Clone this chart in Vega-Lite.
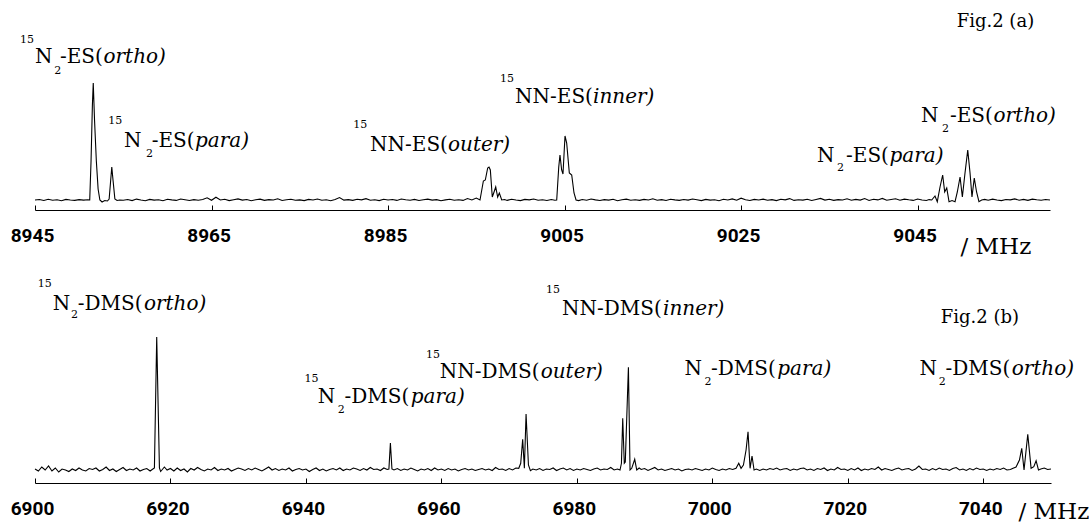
{
"$schema":"https://vega.github.io/schema/vega-lite/v6.json",
"padding":{"left":10,"top":0,"right":0,"bottom":0},
"spacing":4,
"config":{"view":{"stroke":null},
 "axis":{"domainColor":"black","domainWidth":1,"tickColor":"black","tickSize":-5,"labelPadding":21,"labelFlush":false,"labelColor":"black","labelFont":"Roboto","labelFontWeight":"bold","labelFontSize":19,"grid":false,"titleFont":"DejaVu Serif","titleFontWeight":"normal","titleFontSize":23,"titleColor":"black"}},
"datasets":{
"a":[
{"f":8945,"v":1},{"f":8945.5,"v":1.5},{"f":8946,"v":0.5},{"f":8946.5,"v":1.8},{"f":8947,"v":0.8},{"f":8947.5,"v":1.2},{"f":8948,"v":0.3},{"f":8948.5,"v":1.6},{"f":8949,"v":1},{"f":8949.5,"v":0.6},{"f":8950,"v":1.4},{"f":8950.5,"v":0.9},{"f":8951,"v":1.2},
{"f":8951.2,"v":1},{"f":8951.35,"v":40},{"f":8951.5,"v":95},{"f":8951.6,"v":118},{"f":8951.75,"v":80},{"f":8951.95,"v":40},{"f":8952.15,"v":12},{"f":8952.35,"v":1},{"f":8952.6,"v":-1},{"f":8952.9,"v":0.5},{"f":8953.2,"v":0},{"f":8953.4,"v":2},{"f":8953.55,"v":18},{"f":8953.7,"v":34},{"f":8953.85,"v":20},{"f":8954.05,"v":2},{"f":8954.3,"v":0.5},{"f":8954.6,"v":1},
{"f":8955,"v":0.8},{"f":8955.5,"v":1.5},{"f":8956,"v":0.4},{"f":8956.5,"v":1.9},{"f":8957,"v":1},{"f":8957.5,"v":0.3},{"f":8958,"v":1.6},{"f":8958.5,"v":0.9},{"f":8959,"v":1.3},{"f":8959.5,"v":0.2},{"f":8960,"v":1.7},{"f":8960.5,"v":1.1},{"f":8961,"v":0.6},{"f":8961.5,"v":2},{"f":8962,"v":1.2},{"f":8962.5,"v":0.5},{"f":8963,"v":1.4},{"f":8963.5,"v":0.8},{"f":8964,"v":1.5},{"f":8964.5,"v":3.2},{"f":8965,"v":0.7},{"f":8965.5,"v":3.8},{"f":8966,"v":1},{"f":8966.5,"v":1.8},{"f":8967,"v":0.4},{"f":8967.5,"v":1.3},{"f":8968,"v":2.1},{"f":8968.5,"v":0.9},{"f":8969,"v":1.5},{"f":8969.5,"v":0.3},{"f":8970,"v":1.2},{"f":8970.5,"v":1.9},{"f":8971,"v":0.6},{"f":8971.5,"v":1.4},{"f":8972,"v":1},{"f":8972.5,"v":2.2},{"f":8973,"v":0.5},{"f":8973.5,"v":1.3},{"f":8974,"v":1.8},{"f":8974.5,"v":0.7},{"f":8975,"v":1.1},{"f":8975.5,"v":0.4},{"f":8976,"v":1.6},{"f":8976.5,"v":1},{"f":8977,"v":2},{"f":8977.5,"v":0.8},{"f":8978,"v":1.3},{"f":8978.5,"v":0.2},{"f":8979,"v":1.5},{"f":8979.5,"v":3.5},{"f":8980,"v":0.9},{"f":8980.5,"v":1.4},{"f":8981,"v":0.6},{"f":8981.5,"v":1.8},{"f":8982,"v":1.1},{"f":8982.5,"v":2.3},{"f":8983,"v":0.7},{"f":8983.5,"v":1.2},{"f":8984,"v":0.4},{"f":8984.5,"v":1.7},{"f":8985,"v":1},{"f":8985.5,"v":1.5},{"f":8986,"v":0.6},{"f":8986.5,"v":2},{"f":8987,"v":1.2},{"f":8987.5,"v":0.8},{"f":8988,"v":1.6},{"f":8988.5,"v":0.5},{"f":8989,"v":1.3},{"f":8989.5,"v":1.9},{"f":8990,"v":0.9},{"f":8990.5,"v":1.4},{"f":8991,"v":0.3},{"f":8991.5,"v":1.1},{"f":8992,"v":1.7},{"f":8992.5,"v":0.8},{"f":8993,"v":1.3},{"f":8993.5,"v":0.6},{"f":8994,"v":2.5},{"f":8994.5,"v":1},{"f":8995,"v":3},
{"f":8995.42,"v":1},{"f":8995.8,"v":20},{"f":8996.02,"v":21},{"f":8996.29,"v":33},{"f":8996.44,"v":34},{"f":8996.59,"v":31},{"f":8996.81,"v":4},{"f":8997.01,"v":9},{"f":8997.2,"v":14},{"f":8997.42,"v":4},{"f":8997.61,"v":8},{"f":8997.88,"v":1},
{"f":8998.2,"v":1.5},{"f":8998.5,"v":0.6},{"f":8999,"v":1.8},{"f":8999.5,"v":1},{"f":9000,"v":0.4},{"f":9000.5,"v":1.6},{"f":9001,"v":1.1},{"f":9001.5,"v":2},{"f":9002,"v":0.7},{"f":9002.5,"v":1.3},{"f":9003,"v":0.5},{"f":9003.5,"v":1.5},{"f":9003.9,"v":0.8},
{"f":9004.11,"v":1},{"f":9004.34,"v":34},{"f":9004.48,"v":46},{"f":9004.67,"v":31},{"f":9004.82,"v":27},{"f":9005.05,"v":65},{"f":9005.24,"v":58},{"f":9005.54,"v":28},{"f":9005.81,"v":26},{"f":9006.07,"v":8},{"f":9006.3,"v":1},
{"f":9006.6,"v":0.4},{"f":9007,"v":1.5},{"f":9007.5,"v":0.8},{"f":9008,"v":2},{"f":9008.5,"v":1.1},{"f":9009,"v":0.5},{"f":9009.5,"v":1.4},{"f":9010,"v":0.9},{"f":9010.5,"v":1.7},{"f":9011,"v":0.3},{"f":9011.5,"v":1.2},{"f":9012,"v":1.9},{"f":9012.5,"v":0.8},{"f":9013,"v":1.3},{"f":9013.5,"v":0.6},{"f":9014,"v":1.6},{"f":9014.5,"v":1},{"f":9015,"v":2.2},{"f":9015.5,"v":0.7},{"f":9016,"v":1.4},{"f":9016.5,"v":0.5},{"f":9017,"v":1.8},{"f":9017.5,"v":1.1},{"f":9018,"v":0.6},{"f":9018.5,"v":1.5},{"f":9019,"v":0.9},{"f":9019.5,"v":2},{"f":9020,"v":1.2},{"f":9020.5,"v":0.4},{"f":9021,"v":1.6},{"f":9021.5,"v":0.9},{"f":9022,"v":1.3},{"f":9022.5,"v":0.3},{"f":9023,"v":1.7},{"f":9023.5,"v":1},{"f":9024,"v":2.1},{"f":9024.5,"v":0.8},{"f":9025,"v":2.8},{"f":9025.5,"v":1.2},{"f":9026,"v":0.5},{"f":9026.5,"v":1.6},{"f":9027,"v":1},{"f":9027.5,"v":1.9},{"f":9028,"v":0.7},{"f":9028.5,"v":1.4},{"f":9029,"v":0.4},{"f":9029.5,"v":1.8},{"f":9030,"v":1.1},{"f":9030.5,"v":2.4},{"f":9031,"v":0.6},{"f":9031.5,"v":1.3},{"f":9032,"v":0.9},{"f":9032.5,"v":1.7},{"f":9033,"v":0.5},{"f":9033.5,"v":1.5},{"f":9034,"v":2.6},{"f":9034.5,"v":0.9},{"f":9035,"v":1.8},{"f":9035.5,"v":0.6},{"f":9036,"v":1.4},{"f":9036.5,"v":1},{"f":9037,"v":2.2},{"f":9037.5,"v":0.7},{"f":9038,"v":1.6},{"f":9038.5,"v":0.9},{"f":9039,"v":2.4},{"f":9039.5,"v":0.5},{"f":9040,"v":1.8},{"f":9040.5,"v":1.1},{"f":9041,"v":2.6},{"f":9041.5,"v":0.7},{"f":9042,"v":1.5},{"f":9042.5,"v":2.3},{"f":9043,"v":0.8},{"f":9043.5,"v":1.9},{"f":9044,"v":1.2},{"f":9044.5,"v":0.6},{"f":9045,"v":2},{"f":9045.5,"v":1},{"f":9046,"v":0.5},{"f":9046.3,"v":1.4},
{"f":9046.6,"v":1},{"f":9046.97,"v":5},{"f":9047.23,"v":-0.7},{"f":9047.54,"v":14},{"f":9047.84,"v":26},{"f":9048.07,"v":9},{"f":9048.3,"v":13},{"f":9048.56,"v":-0.7},{"f":9048.9,"v":0.5},{"f":9049.24,"v":-0.7},{"f":9049.5,"v":9},{"f":9049.81,"v":24},{"f":9050.07,"v":4},{"f":9050.37,"v":28},{"f":9050.68,"v":51},{"f":9050.94,"v":28},{"f":9051.16,"v":4},{"f":9051.42,"v":23},{"f":9051.68,"v":9},{"f":9051.95,"v":-0.7},{"f":9052.26,"v":1},
{"f":9052.6,"v":1.6},{"f":9053,"v":0.8},{"f":9053.5,"v":1.9},{"f":9054,"v":1},{"f":9054.5,"v":0.4},{"f":9055,"v":1.5},{"f":9055.5,"v":1.1},{"f":9056,"v":2.1},{"f":9056.5,"v":0.8},{"f":9057,"v":1.6},{"f":9057.5,"v":0.6},{"f":9058,"v":1.9},{"f":9058.5,"v":1.2},{"f":9059,"v":0.7},{"f":9059.5,"v":1.5},{"f":9060,"v":1}
],
"b":[
{"f":6900,"v":1},{"f":6900.5,"v":-1},{"f":6901,"v":3},{"f":6901.5,"v":0},{"f":6902,"v":4},{"f":6902.5,"v":-1},{"f":6903,"v":2},{"f":6903.5,"v":-2},{"f":6904,"v":1},{"f":6904.5,"v":0},{"f":6905,"v":-1.5},{"f":6905.5,"v":1},{"f":6906,"v":-0.5},{"f":6906.5,"v":2},{"f":6907,"v":0},{"f":6907.5,"v":-1},{"f":6908,"v":1.5},{"f":6908.5,"v":0.5},{"f":6909,"v":2},{"f":6909.5,"v":-1},{"f":6910,"v":0.5},{"f":6910.5,"v":3},{"f":6911,"v":-0.5},{"f":6911.5,"v":1},{"f":6912,"v":-1.5},{"f":6912.5,"v":0.5},{"f":6913,"v":2.5},{"f":6913.5,"v":-0.5},{"f":6914,"v":1},{"f":6914.5,"v":0},{"f":6915,"v":2},{"f":6915.5,"v":-1},{"f":6916,"v":0.5},{"f":6916.5,"v":1.5},{"f":6917,"v":-1},{"f":6917.3,"v":0.5},
{"f":6917.63,"v":2},{"f":6917.97,"v":133},{"f":6918.37,"v":2},{"f":6918.55,"v":-1.5},
{"f":6918.8,"v":0.5},{"f":6919.1,"v":3},{"f":6919.5,"v":0},{"f":6920,"v":1.5},{"f":6920.5,"v":-1},{"f":6921,"v":2},{"f":6921.5,"v":-0.5},{"f":6922,"v":1},{"f":6922.5,"v":-2},{"f":6923,"v":1.5},{"f":6923.5,"v":0},{"f":6924,"v":2.5},{"f":6924.5,"v":0.5},{"f":6925,"v":-1},{"f":6925.5,"v":1},{"f":6926,"v":0},{"f":6926.5,"v":2.5},{"f":6927,"v":-0.5},{"f":6927.5,"v":1},{"f":6928,"v":0},{"f":6928.5,"v":1.5},{"f":6929,"v":-1},{"f":6929.5,"v":0.5},{"f":6930,"v":2},{"f":6930.5,"v":1},{"f":6931,"v":-0.5},{"f":6931.5,"v":1.5},{"f":6932,"v":0},{"f":6932.5,"v":2},{"f":6933,"v":0.5},{"f":6933.5,"v":-1},{"f":6934,"v":1},{"f":6934.5,"v":3},{"f":6935,"v":0},{"f":6935.5,"v":1.5},{"f":6936,"v":-0.5},{"f":6936.5,"v":1},{"f":6937,"v":0},{"f":6937.5,"v":2},{"f":6938,"v":-1},{"f":6938.5,"v":0.5},{"f":6939,"v":1.5},{"f":6939.5,"v":0},{"f":6940,"v":1},{"f":6940.5,"v":-1.5},{"f":6941,"v":0.5},{"f":6941.5,"v":2},{"f":6942,"v":-0.5},{"f":6942.5,"v":1},{"f":6943,"v":-1},{"f":6943.5,"v":0.5},{"f":6944,"v":1.5},{"f":6944.5,"v":0},{"f":6945,"v":2},{"f":6945.5,"v":-0.5},{"f":6946,"v":1},{"f":6946.5,"v":0},{"f":6947,"v":2},{"f":6947.5,"v":1},{"f":6948,"v":-0.5},{"f":6948.5,"v":1.5},{"f":6949,"v":0},{"f":6949.5,"v":2.5},{"f":6950,"v":0.5},{"f":6950.5,"v":1},{"f":6951,"v":-0.5},{"f":6951.5,"v":2},{"f":6952,"v":0.5},
{"f":6952.25,"v":1},{"f":6952.47,"v":27},{"f":6952.7,"v":1},
{"f":6953,"v":0},{"f":6953.5,"v":1.5},{"f":6954,"v":-0.5},{"f":6954.5,"v":1},{"f":6955,"v":0},{"f":6955.5,"v":2},{"f":6956,"v":0.5},{"f":6956.5,"v":-1},{"f":6957,"v":1},{"f":6957.5,"v":0},{"f":6958,"v":1.5},{"f":6958.5,"v":-0.5},{"f":6959,"v":2},{"f":6959.5,"v":0},{"f":6960,"v":1},{"f":6960.5,"v":-0.5},{"f":6961,"v":1.5},{"f":6961.5,"v":0},{"f":6962,"v":1},{"f":6962.5,"v":-1},{"f":6963,"v":0.5},{"f":6963.5,"v":1.5},{"f":6964,"v":0},{"f":6964.5,"v":1},{"f":6965,"v":-0.5},{"f":6965.5,"v":0.5},{"f":6966,"v":1.5},{"f":6966.5,"v":0},{"f":6967,"v":1},{"f":6967.5,"v":-0.5},{"f":6968,"v":2.5},{"f":6968.5,"v":0.5},{"f":6969,"v":1},{"f":6969.5,"v":-0.5},{"f":6970,"v":1.5},{"f":6970.5,"v":0},{"f":6971,"v":2},
{"f":6971.42,"v":1.7},{"f":6971.71,"v":6.7},{"f":6972,"v":30.7},{"f":6972.25,"v":1.7},{"f":6972.5,"v":56},{"f":6972.85,"v":5},{"f":6973.14,"v":-0.7},
{"f":6973.5,"v":1},{"f":6974,"v":0},{"f":6974.5,"v":1.5},{"f":6975,"v":-0.5},{"f":6975.5,"v":1},{"f":6976,"v":0.5},{"f":6976.5,"v":2},{"f":6977,"v":-0.5},{"f":6977.5,"v":1},{"f":6978,"v":2},{"f":6978.5,"v":0},{"f":6979,"v":1.5},{"f":6979.5,"v":-0.5},{"f":6980,"v":1},{"f":6980.5,"v":0},{"f":6981,"v":1.5},{"f":6981.5,"v":0.5},{"f":6982,"v":-0.5},{"f":6982.5,"v":1},{"f":6983,"v":2},{"f":6983.5,"v":0},{"f":6984,"v":1},{"f":6984.5,"v":0.5},{"f":6985,"v":2.5},{"f":6985.5,"v":0},{"f":6986,"v":1},
{"f":6986.37,"v":0},{"f":6986.58,"v":6.7},{"f":6986.77,"v":51.7},{"f":6987,"v":6.7},{"f":6987.15,"v":8},{"f":6987.61,"v":102.7},{"f":6987.85,"v":0},{"f":6988.1,"v":1.7},{"f":6988.54,"v":10.7},{"f":6988.84,"v":0},
{"f":6989.2,"v":2},{"f":6989.5,"v":0.5},{"f":6990,"v":1.5},{"f":6990.5,"v":-0.5},{"f":6991,"v":1},{"f":6991.5,"v":2.5},{"f":6992,"v":0},{"f":6992.5,"v":1},{"f":6993,"v":-0.5},{"f":6993.5,"v":0.5},{"f":6994,"v":1.5},{"f":6994.5,"v":0},{"f":6995,"v":1},{"f":6995.5,"v":-1},{"f":6996,"v":0.5},{"f":6996.5,"v":1},{"f":6997,"v":0},{"f":6997.5,"v":1.5},{"f":6998,"v":0.5},{"f":6998.5,"v":-0.5},{"f":6999,"v":1},{"f":6999.5,"v":0},{"f":7000,"v":2},{"f":7000.5,"v":0.5},{"f":7001,"v":-0.5},{"f":7001.5,"v":1},{"f":7002,"v":0},{"f":7002.5,"v":1.5},{"f":7003,"v":0.5},
{"f":7003.5,"v":1.7},{"f":7003.9,"v":6.7},{"f":7004.24,"v":1.7},{"f":7004.59,"v":5},{"f":7004.98,"v":20},{"f":7005.27,"v":38.3},{"f":7005.57,"v":1.7},{"f":7005.86,"v":14},{"f":7006.16,"v":0},
{"f":7006.5,"v":1},{"f":7007,"v":-0.5},{"f":7007.5,"v":1},{"f":7008,"v":0},{"f":7008.5,"v":1.5},{"f":7009,"v":0.5},{"f":7009.5,"v":2},{"f":7010,"v":0},{"f":7010.5,"v":1},{"f":7011,"v":1.5},{"f":7011.5,"v":-0.5},{"f":7012,"v":1},{"f":7012.5,"v":0},{"f":7013,"v":1.5},{"f":7013.5,"v":2},{"f":7014,"v":0},{"f":7014.5,"v":1},{"f":7015,"v":-0.5},{"f":7015.5,"v":1.5},{"f":7016,"v":0.5},{"f":7016.5,"v":2},{"f":7017,"v":-0.5},{"f":7017.5,"v":1},{"f":7018,"v":0},{"f":7018.5,"v":2.5},{"f":7019,"v":0.5},{"f":7019.5,"v":1},{"f":7020,"v":-0.5},{"f":7020.5,"v":1.5},{"f":7021,"v":0},{"f":7021.5,"v":2},{"f":7022,"v":-0.5},{"f":7022.5,"v":1},{"f":7023,"v":0},{"f":7023.5,"v":1.5},{"f":7024,"v":0.5},{"f":7024.5,"v":3},{"f":7025,"v":0},{"f":7025.5,"v":1.5},{"f":7026,"v":0.5},{"f":7026.5,"v":-0.5},{"f":7027,"v":1},{"f":7027.5,"v":2},{"f":7028,"v":0},{"f":7028.5,"v":1},{"f":7029,"v":1.5},{"f":7029.5,"v":-0.5},{"f":7030,"v":1},{"f":7030.5,"v":4},{"f":7031,"v":0.5},{"f":7031.5,"v":1},{"f":7032,"v":-0.5},{"f":7032.5,"v":1.5},{"f":7033,"v":0},{"f":7033.5,"v":2},{"f":7034,"v":0.5},{"f":7034.5,"v":1},{"f":7035,"v":-0.5},{"f":7035.5,"v":1.5},{"f":7036,"v":2.5},{"f":7036.5,"v":0},{"f":7037,"v":1},{"f":7037.5,"v":-0.5},{"f":7038,"v":1.5},{"f":7038.5,"v":0},{"f":7039,"v":2},{"f":7039.5,"v":0.5},{"f":7040,"v":1},{"f":7040.5,"v":-0.5},{"f":7041,"v":1},{"f":7041.5,"v":0},{"f":7042,"v":1.5},{"f":7042.5,"v":0.5},{"f":7043,"v":2},{"f":7043.5,"v":0},{"f":7044,"v":0.5},
{"f":7044.4,"v":1.7},{"f":7044.84,"v":3},{"f":7045.34,"v":10},{"f":7045.68,"v":21.7},{"f":7046.02,"v":0},{"f":7046.57,"v":35.7},{"f":7047.06,"v":1.7},{"f":7047.46,"v":3.3},{"f":7047.8,"v":9.3},{"f":7048.15,"v":0},
{"f":7048.5,"v":1},{"f":7049,"v":2},{"f":7049.5,"v":0.5},{"f":7050,"v":1}
],
"la":[
{"k":"s","t":"15","f":8943.3,"v":157.7},{"k":"m","t":"N","f":8945.0,"v":137.7},{"k":"b","t":"2","f":8947.19,"v":127},{"k":"m","t":"-ES(","f":8947.83,"v":137.7},{"k":"i","t":"ortho)","f":8952.76,"v":137.7},
{"k":"s","t":"15","f":8953.31,"v":77},{"k":"m","t":"N","f":8955.08,"v":54.3},{"k":"b","t":"2","f":8957.58,"v":44.3},{"k":"m","t":"-ES(","f":8958.22,"v":54.3},{"k":"i","t":"para)","f":8963.13,"v":54.3},
{"k":"s","t":"15","f":8981.06,"v":72.7},{"k":"m","t":"NN-ES(","f":8982.96,"v":50.3},{"k":"i","t":"outer)","f":8991.79,"v":50.3},
{"k":"s","t":"15","f":8997.69,"v":119.3},{"k":"m","t":"NN-ES(","f":8999.39,"v":98.3},{"k":"i","t":"inner)","f":9008.22,"v":98.3},
{"k":"m","t":"N","f":9045.39,"v":79.3},{"k":"b","t":"2","f":9047.77,"v":69.3},{"k":"m","t":"-ES(","f":9048.67,"v":79.3},{"k":"i","t":"ortho)","f":9053.6,"v":79.3},
{"k":"m","t":"N","f":9033.6,"v":39.3},{"k":"b","t":"2","f":9035.87,"v":30},{"k":"m","t":"-ES(","f":9036.89,"v":39.3},{"k":"i","t":"para)","f":9041.82,"v":39.3},
{"k":"g","t":"Fig.2 (a)","f":9049.43,"v":174}
],
"lb":[
{"k":"s","t":"15","f":6900.4,"v":182.7},{"k":"m","t":"N","f":6902.61,"v":160},{"k":"b","t":"2","f":6905.32,"v":151.7},{"k":"m","t":"-DMS(","f":6906.3,"v":160},{"k":"i","t":"ortho)","f":6916.09,"v":160},
{"k":"s","t":"15","f":6939.78,"v":88.3},{"k":"m","t":"N","f":6941.74,"v":66.7},{"k":"b","t":"2","f":6944.69,"v":56.7},{"k":"m","t":"-DMS(","f":6945.68,"v":66.7},{"k":"i","t":"para)","f":6955.47,"v":66.7},
{"k":"s","t":"15","f":6957.73,"v":111.7},{"k":"m","t":"NN-DMS(","f":6959.75,"v":91.7},{"k":"i","t":"outer)","f":6974.66,"v":91.7},
{"k":"s","t":"15","f":6975.45,"v":176.7},{"k":"m","t":"NN-DMS(","f":6977.81,"v":155},{"k":"i","t":"inner)","f":6992.72,"v":155},
{"k":"m","t":"N","f":6995.88,"v":95},{"k":"b","t":"2","f":6998.83,"v":85},{"k":"m","t":"-DMS(","f":6999.81,"v":95},{"k":"i","t":"para)","f":7009.58,"v":95},
{"k":"m","t":"N","f":7030.58,"v":95},{"k":"b","t":"2","f":7033.43,"v":85},{"k":"m","t":"-DMS(","f":7034.42,"v":95},{"k":"i","t":"ortho)","f":7044.2,"v":95},
{"k":"g","t":"Fig.2 (b)","f":7033.72,"v":147.3}
]
},
"vconcat":[
{"width":1015,"height":210,
 "encoding":{
  "x":{"field":"f","type":"quantitative","scale":{"domain":[8945,9060],"nice":false,"zero":false},
       "axis":{"values":[8945,8965,8985,9005,9025,9045],"format":"d","labelOffset":-3,"labelFlush":false,"title":"/ MHz","titleFont":"DejaVu Serif","titleX":925,"titleY":43,"titleAlign":"left","titleBaseline":"alphabetic","titleAnchor":"start"}},
  "y":{"field":"v","type":"quantitative","scale":{"domain":[-9,201],"nice":false,"zero":false},"axis":null}},
 "layer":[
  {"data":{"name":"a"},"mark":{"type":"line","color":"black","strokeWidth":1.1}},
  {"data":{"name":"la"},"transform":[{"filter":"datum.k==='m'"}],"mark":{"type":"text","font":"DejaVu Serif","fontSize":20,"align":"left","baseline":"alphabetic","color":"black"},"encoding":{"text":{"field":"t"}}},
  {"data":{"name":"la"},"transform":[{"filter":"datum.k==='i'"}],"mark":{"type":"text","font":"DejaVu Serif","fontSize":20,"fontStyle":"italic","align":"left","baseline":"alphabetic","color":"black"},"encoding":{"text":{"field":"t"}}},
  {"data":{"name":"la"},"transform":[{"filter":"datum.k==='s' || datum.k==='b'"}],"mark":{"type":"text","font":"DejaVu Serif","fontSize":11,"align":"left","baseline":"alphabetic","color":"black"},"encoding":{"text":{"field":"t"}}},
  {"data":{"name":"la"},"transform":[{"filter":"datum.k==='g'"}],"mark":{"type":"text","font":"DejaVu Serif","fontSize":18,"align":"left","baseline":"alphabetic","color":"black"},"encoding":{"text":{"field":"t"}}}
 ]},
{"width":1016,"height":221,
 "encoding":{
  "x":{"field":"f","type":"quantitative","scale":{"domain":[6900,7050],"nice":false,"zero":false},
       "axis":{"values":[6900,6920,6940,6960,6980,7000,7020,7040],"format":"d","labelOffset":-3,"labelFlush":false,"title":"/ MHz","titleFont":"DejaVu Serif","titleX":983,"titleY":35,"titleAlign":"left","titleBaseline":"alphabetic","titleAnchor":"start"}},
  "y":{"field":"v","type":"quantitative","scale":{"domain":[-13,208],"nice":false,"zero":false},"axis":null}},
 "layer":[
  {"data":{"name":"b"},"mark":{"type":"line","color":"black","strokeWidth":1.1}},
  {"data":{"name":"lb"},"transform":[{"filter":"datum.k==='m'"}],"mark":{"type":"text","font":"DejaVu Serif","fontSize":20,"align":"left","baseline":"alphabetic","color":"black"},"encoding":{"text":{"field":"t"}}},
  {"data":{"name":"lb"},"transform":[{"filter":"datum.k==='i'"}],"mark":{"type":"text","font":"DejaVu Serif","fontSize":20,"fontStyle":"italic","align":"left","baseline":"alphabetic","color":"black"},"encoding":{"text":{"field":"t"}}},
  {"data":{"name":"lb"},"transform":[{"filter":"datum.k==='s' || datum.k==='b'"}],"mark":{"type":"text","font":"DejaVu Serif","fontSize":11,"align":"left","baseline":"alphabetic","color":"black"},"encoding":{"text":{"field":"t"}}},
  {"data":{"name":"lb"},"transform":[{"filter":"datum.k==='g'"}],"mark":{"type":"text","font":"DejaVu Serif","fontSize":18,"align":"left","baseline":"alphabetic","color":"black"},"encoding":{"text":{"field":"t"}}}
 ]}
]
}
